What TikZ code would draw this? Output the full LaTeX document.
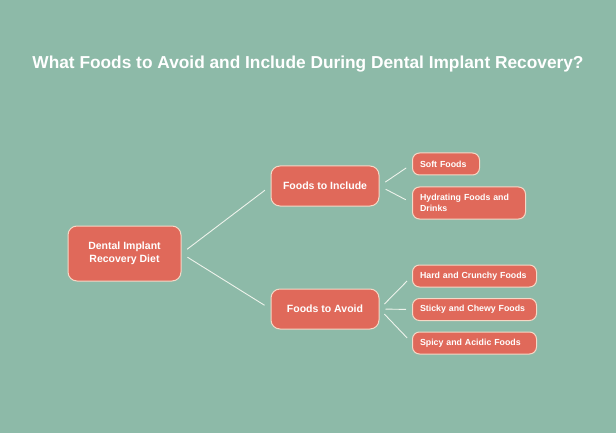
\documentclass[tikz,border=0pt]{standalone}
\usepackage{fontspec}
\setmainfont{Liberation Sans}
\usepackage{tikz}
\usetikzlibrary{
    calc,
    backgrounds
}
\definecolor{bgteal}{HTML}{8DBAA8}
\definecolor{boxfill}{HTML}{E0695A}
\definecolor{boxline}{HTML}{F5D8C6}
\definecolor{linkcol}{HTML}{EEF3EC}
\tikzset{
    box/.style={draw=boxline, line width=1pt, fill=boxfill, text=white,
        rounded corners=9pt, inner sep=0pt, align=center,
        font=\bfseries\fontsize{10.5}{12.5}\selectfont},
    leaf/.style={box, anchor=west, rounded corners=7pt, align=left,
        inner xsep=7.5pt, inner ysep=0pt, minimum height=22pt, text width=#1,
        font=\bfseries\fontsize{8.8}{10.5}\selectfont},
    link/.style={draw=linkcol, line width=0.9pt, shorten <=7pt, shorten >=7pt},
    title/.style={text=white, font=\bfseries\fontsize{17.3}{20}\selectfont}
}

\begin{document}
\begin{tikzpicture}[x=1pt,y=-1pt]
      \fill[bgteal] (0,0) rectangle (616,433);
      \useasboundingbox (0,0) rectangle (616,433);
      \node[title] (title) at (308,64) {What Foods to Avoid and Include During Dental Implant Recovery?};
      % main branches
      \node[box, minimum width=113pt, minimum height=55pt] (diet) at (124.5,253.5) {Dental Implant\\Recovery Diet};
      \node[box, minimum width=108pt, minimum height=40pt] (incl) at (325,186) {Foods to Include};
      \node[box, minimum width=108pt, minimum height=40pt] (avoid) at (325,309) {Foods to Avoid};
      % leaves
      \node[leaf=52pt] (soft) at (412,164) {Soft Foods};
      \node[leaf=98pt, minimum height=32pt] (hydr) at (412,203) {Hydrating Foods and\\Drinks};
      \node[leaf=109pt] (hard) at (412,276) {Hard and Crunchy Foods};
      \node[leaf=109pt] (sticky) at (412,309.5) {Sticky and Chewy Foods};
      \node[leaf=109pt] (spicy) at (412,343) {Spicy and Acidic Foods};
      \draw[link] (diet.east) -- (incl.west);
      \draw[link] (diet.east) -- (avoid.west);
      \draw[link] (incl.east) -- (soft.west);
      \draw[link] (incl.east) -- (hydr.west);
      \draw[link, shorten <=6pt, shorten >=6pt] (avoid.east) -- (sticky.west);
      \draw[link] (avoid.east) -- (hard.west);
      \draw[link] (avoid.east) -- (spicy.west);
    \end{tikzpicture}
\end{document}
